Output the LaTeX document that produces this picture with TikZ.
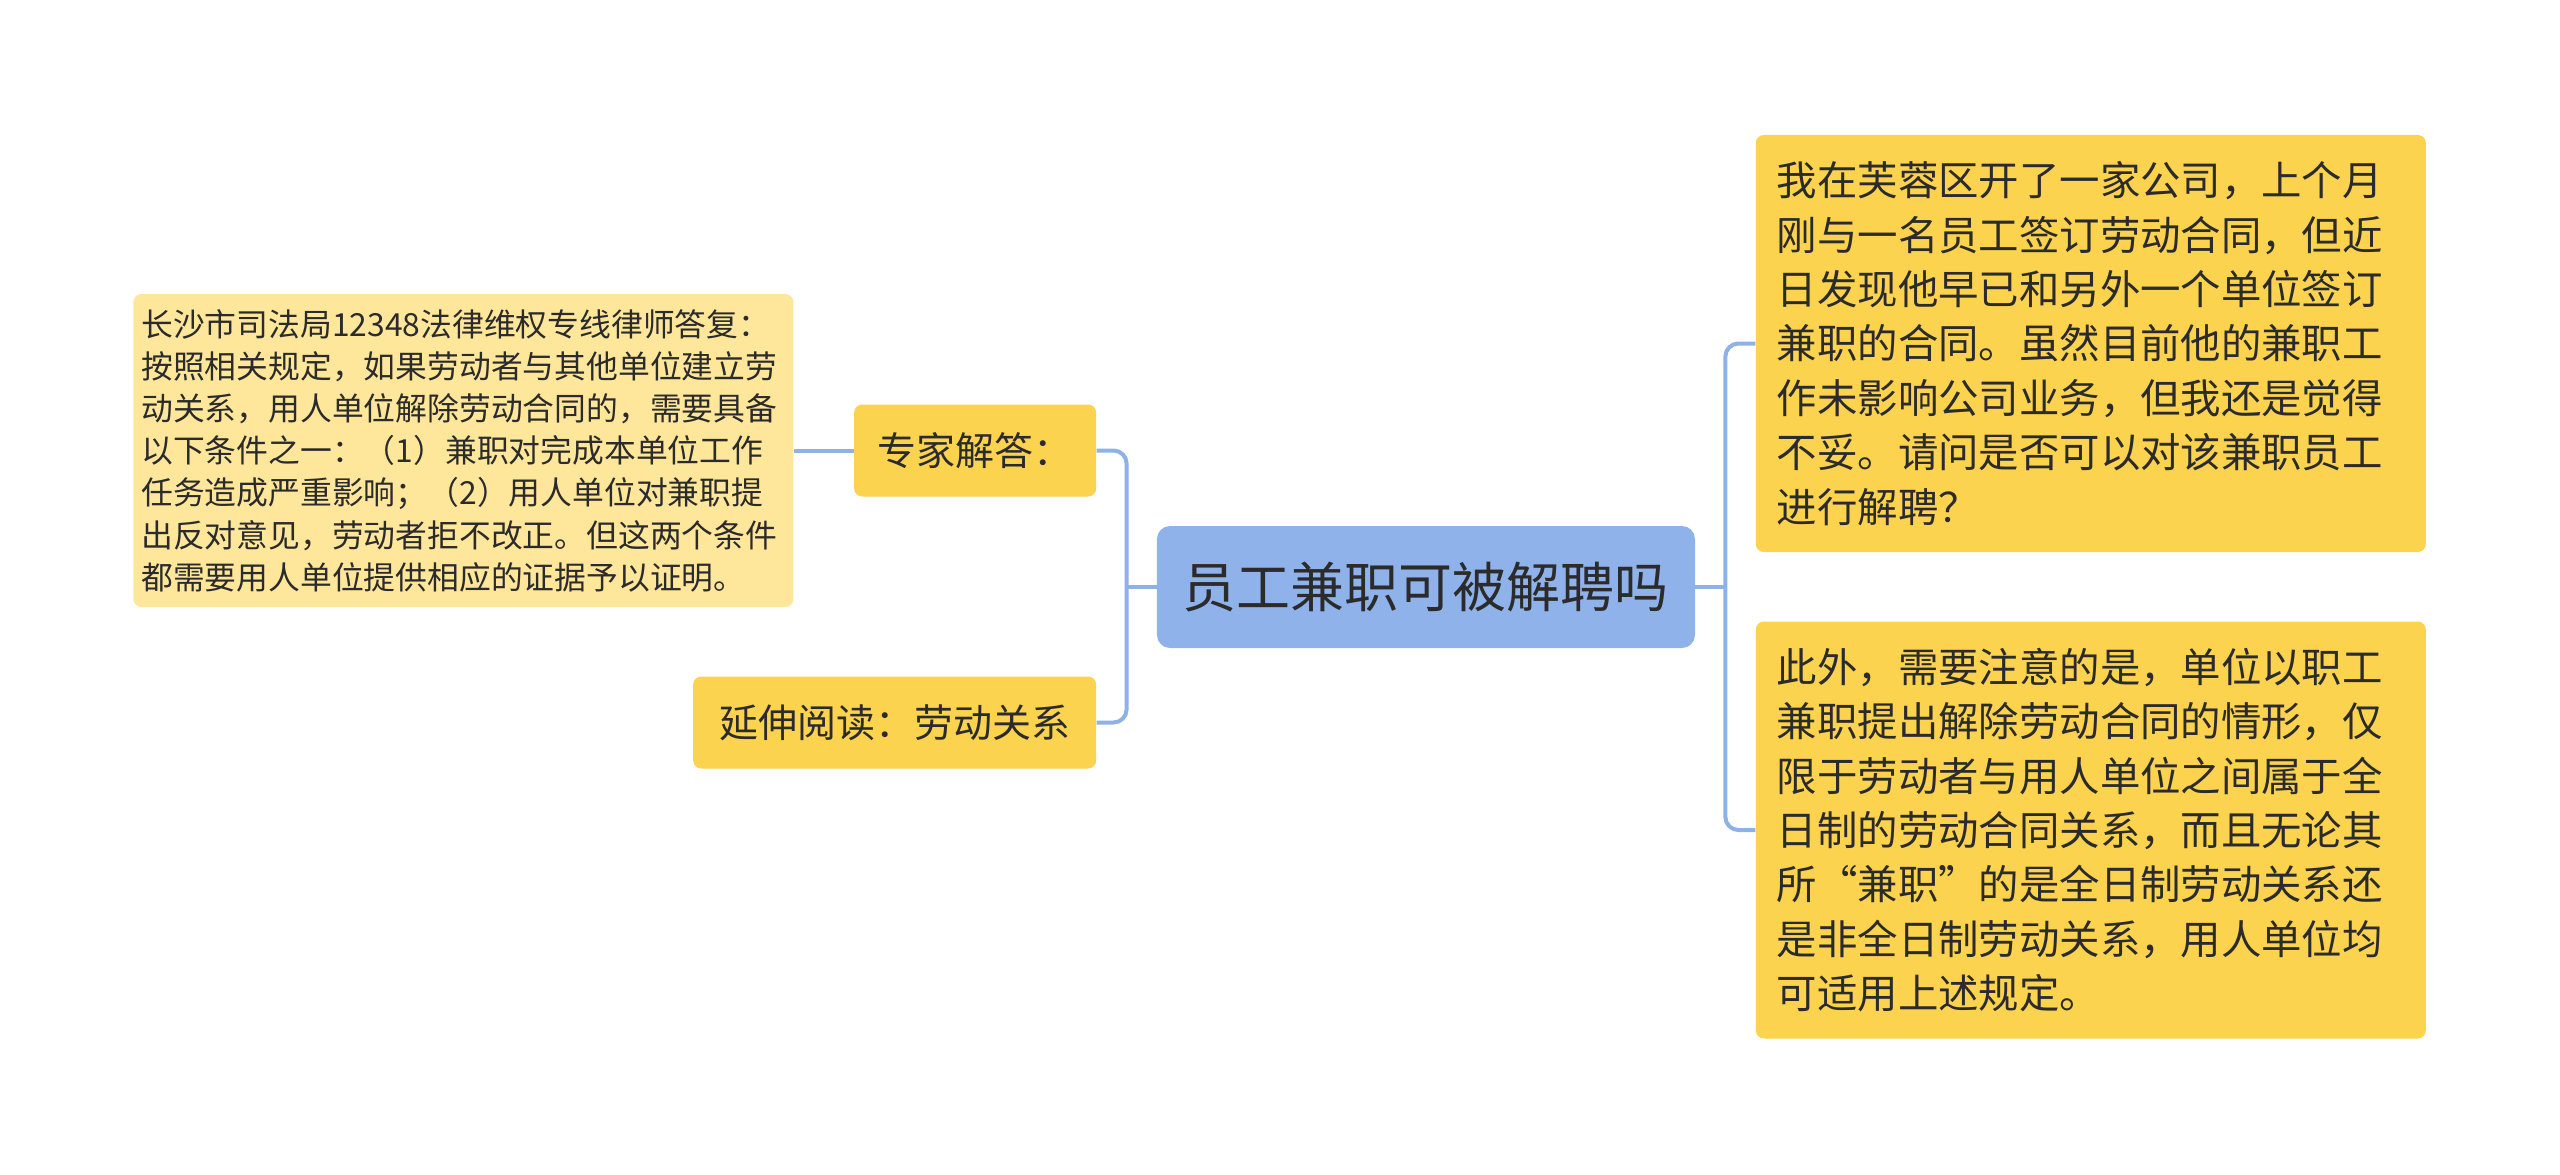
\documentclass[tikz,border=0pt]{standalone}
\usepackage{fontspec}
\setmainfont{Noto Sans CJK SC}
\usetikzlibrary{positioning}
\definecolor{rootblue}{HTML}{8FB2EA}
\definecolor{kidyellow}{HTML}{FCD34F}
\definecolor{paleyellow}{HTML}{FEE79B}
\definecolor{linkblue}{HTML}{8EB1E6}
\definecolor{inkgray}{HTML}{2B2B2B}

\begin{document}
\begin{tikzpicture}[
  node distance=30pt,
  topic/.style={fill=rootblue, rounded corners=6.5pt, text=inkgray, font=\fontsize{27}{32}\selectfont, minimum width=269pt, minimum height=61pt, inner sep=0pt},
  kid/.style={fill=kidyellow, rounded corners=4pt, text=inkgray, font=\fontsize{19.5}{24}\selectfont, minimum height=46pt, inner sep=0pt},
  leaf/.style={fill=kidyellow, rounded corners=4pt, text=inkgray, align=left, font=\fontsize{20.2}{27.2}\selectfont, text width=314pt, inner xsep=10.5pt, minimum height=208.5pt},
  paleleaf/.style={fill=paleyellow, rounded corners=4pt, text=inkgray, align=left, font=\fontsize{15.9}{21.1}\selectfont, text width=322pt, inner xsep=4pt, minimum height=156.5pt},
  link/.style={draw=linkblue, line width=2pt, rounded corners=6.5pt}
]
\useasboundingbox (-713pt,293.5pt) rectangle (567pt,-293.5pt);

\node[topic] (root) at (0,0) {员工兼职可被解聘吗};

% left side
\node[kid, minimum width=121pt, left=of root.west, yshift=68.25pt] (ans) {专家解答：};
\node[kid, minimum width=201.5pt, left=of root.west, yshift=-67.75pt] (more) {延伸阅读：劳动关系};
\node[paleleaf, left=of ans] (reply) {长沙市司法局12348法律维权专线律师答复：\\
按照相关规定，如果劳动者与其他单位建立劳\\
动关系，用人单位解除劳动合同的，需要具备\\
以下条件之一：（1）兼职对完成本单位工作\\
任务造成严重影响；（2）用人单位对兼职提\\
出反对意见，劳动者拒不改正。但这两个条件\\
都需要用人单位提供相应的证据予以证明。};

% right side
\node[leaf, right=of root.east, yshift=121.75pt] (ask) {我在芙蓉区开了一家公司，上个月\\
刚与一名员工签订劳动合同，但近\\
日发现他早已和另外一个单位签订\\
兼职的合同。虽然目前他的兼职工\\
作未影响公司业务，但我还是觉得\\
不妥。请问是否可以对该兼职员工\\
进行解聘？};
\node[leaf, right=of root.east, yshift=-121.5pt] (note) {此外，需要注意的是，单位以职工\\
兼职提出解除劳动合同的情形，仅\\
限于劳动者与用人单位之间属于全\\
日制的劳动合同关系，而且无论其\\
所“兼职”的是全日制劳动关系还\\
是非全日制劳动关系，用人单位均\\
可适用上述规定。};

% connectors
\coordinate (lj) at ([xshift=-15pt]root.west);
\coordinate (rj) at ([xshift=15pt]root.east);
\draw[link] (root.west) -- (lj);
\draw[link] (ans.east) -| (lj) |- (more.east);
\draw[link] (ans.west) -- (reply.east);
\draw[link] (root.east) -- (rj);
\draw[link] (ask.west) -| (rj) |- (note.west);
\end{tikzpicture}
\end{document}
